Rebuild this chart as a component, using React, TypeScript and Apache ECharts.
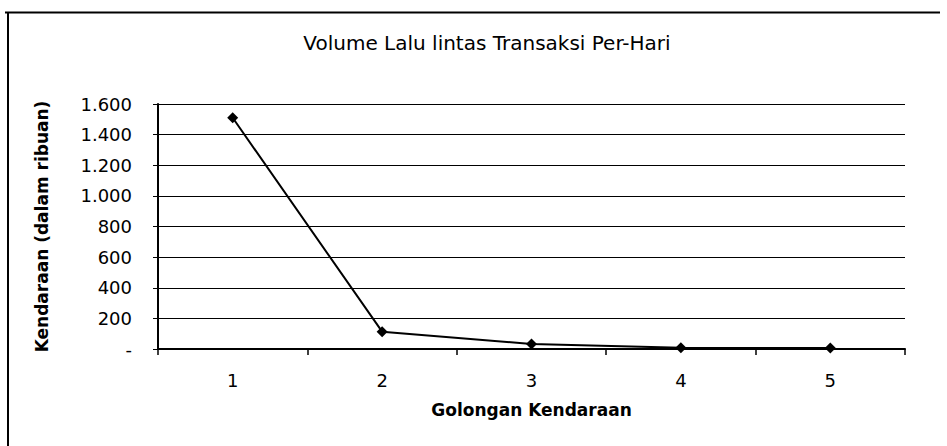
import React, { useEffect, useRef } from "react";
import * as echarts from "echarts";

const categories = ["1", "2", "3", "4", "5"];
const values = [1510, 113, 33, 8, 6];
const yTicks = [0, 200, 400, 600, 800, 1000, 1200, 1400, 1600];

const fmt = (v: number) => {
  if (v === 0) return "-";
  return String(v).replace(/\B(?=(\d{3})+(?!\d))/g, ".");
};

export default function App() {
  const ref = useRef<HTMLDivElement>(null);
  useEffect(() => {
    if (!ref.current) return;
    const chart = echarts.init(ref.current, undefined, { renderer: "svg" });
    chart.setOption({
      animation: false,
      backgroundColor: "#ffffff",
      textStyle: { fontFamily: "DejaVu Sans, sans-serif" },
      title: {
        text: "Volume Lalu lintas Transaksi Per-Hari",
        left: 482,
        textAlign: "center",
        top: 28,
        textStyle: { fontSize: 20, fontWeight: "normal", color: "#000", fontFamily: "DejaVu Sans" },
      },
      grid: { left: 158, right: 42, top: 104, bottom: 97 },
      xAxis: {
        type: "category",
        data: categories,
        boundaryGap: true,
        name: "Golongan Kendaraan",
        nameLocation: "middle",
        nameGap: 52,
        nameTextStyle: { fontSize: 17, fontWeight: "bold", color: "#000", fontFamily: "DejaVu Sans" },
        axisLine: { lineStyle: { color: "#000", width: 2 } },
        axisTick: { show: true, length: 6, lineStyle: { color: "#000", width: 1.5 } },
        axisLabel: { fontSize: 18, color: "#000", margin: 22, fontFamily: "DejaVu Sans" },
      },
      yAxis: {
        type: "value",
        min: yTicks[0],
        max: yTicks[yTicks.length - 1],
        interval: 200,
        name: "Kendaraan (dalam ribuan)",
        nameLocation: "middle",
        nameGap: 108,
        nameTextStyle: { fontSize: 17, fontWeight: "bold", color: "#000", fontFamily: "DejaVu Sans" },
        axisLine: { show: true, lineStyle: { color: "#000", width: 2 } },
        axisTick: { show: true, length: 5, lineStyle: { color: "#000" } },
        axisLabel: { fontSize: 18, color: "#000", margin: 26, fontFamily: "DejaVu Sans", formatter: (v: number) => fmt(v) },
        splitLine: { show: true, lineStyle: { color: "#000", width: 1 } },
      },
      series: [
        {
          type: "line",
          data: values,
          symbol: "diamond",
          symbolSize: 11,
          itemStyle: { color: "#000" },
          lineStyle: { color: "#000", width: 2 },
        },
      ],
      graphic: [
        { type: "line", shape: { x1: 5, y1: 12.5, x2: 940, y2: 12.5 }, style: { stroke: "#000", lineWidth: 2 } },
        { type: "line", shape: { x1: 8, y1: 12, x2: 8, y2: 446 }, style: { stroke: "#000", lineWidth: 2 } },
      ],
    });
    return () => chart.dispose();
  }, []);
  return <div ref={ref} style={{ width: 947, height: 446, position: "absolute", left: 0, top: 0 }} />;
}
